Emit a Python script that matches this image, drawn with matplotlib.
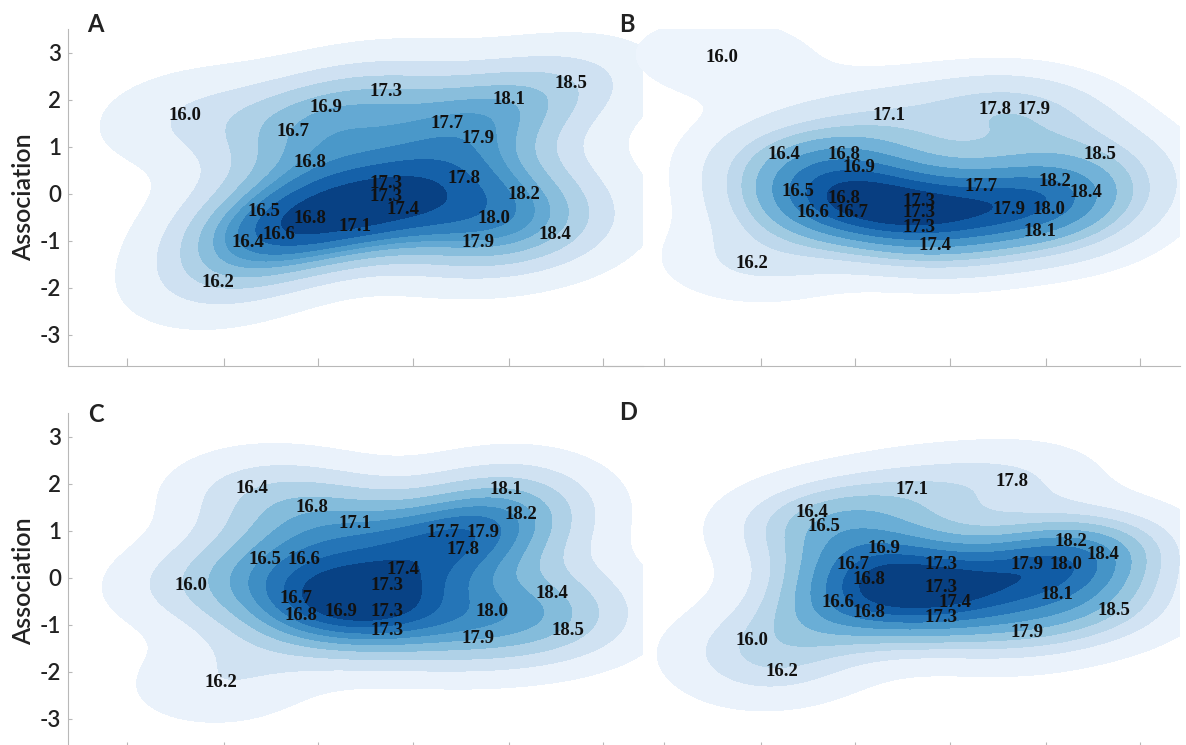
import matplotlib
matplotlib.use("Agg")
import matplotlib.pyplot as plt
import seaborn as sns

plt.rcParams["font.family"] = ["Lato", "DejaVu Sans"]
plt.rcParams["axes.unicode_minus"] = False

# --- panel A ---
a_lab = ["16.0", "16.9", "17.3", "18.1", "18.5", "16.7", "17.7", "17.9", "16.8", "17.3",
         "17.3", "17.8", "18.2", "16.5", "16.8", "17.4", "16.4", "16.6", "17.1", "18.0",
         "17.9", "18.4", "16.2"]
a_x = [16.00, 16.91, 17.30, 18.10, 18.50, 16.70, 17.70, 17.90, 16.81, 17.30,
       17.30, 17.81, 18.20, 16.51, 16.81, 17.41, 16.41, 16.61, 17.10, 18.00,
       17.90, 18.40, 16.21]
a_y = [1.66, 1.83, 2.17, 2.00, 2.34, 1.32, 1.49, 1.17, 0.66, 0.23,
       -0.06, 0.32, -0.02, -0.38, -0.53, -0.32, -1.04, -0.87, -0.70, -0.53,
       -1.04, -0.87, -1.89]

# --- panel B ---
b_lab = ["16.0", "17.1", "17.8", "17.9", "16.4", "16.8", "16.9", "18.5", "16.5", "16.8",
         "17.7", "18.2", "18.4", "16.6", "16.7", "17.3", "17.3", "17.3", "17.9", "18.0",
         "18.1", "17.4", "16.2"]
b_x = [16.00, 17.08, 17.77, 18.02, 16.40, 16.79, 16.89, 18.45, 16.49, 16.79,
       17.68, 18.16, 18.36, 16.59, 16.84, 17.28, 17.28, 17.28, 17.86, 18.12,
       18.06, 17.38, 16.19]
b_y = [2.91, 1.68, 1.79, 1.79, 0.83, 0.85, 0.57, 0.83, 0.06, -0.09,
       0.15, 0.26, 0.04, -0.40, -0.40, -0.17, -0.40, -0.72, -0.32, -0.32,
       -0.79, -1.09, -1.47]

# --- panel C ---
c_lab = ["16.4", "16.8", "17.1", "16.5", "16.6", "16.0", "16.7", "16.8", "16.9", "17.3",
         "17.3", "17.3", "16.2", "18.1", "18.2", "17.7", "17.9", "17.8", "17.4", "18.4",
         "18.0", "18.5", "17.9"]
c_x = [16.43, 16.82, 17.10, 16.52, 16.77, 16.04, 16.72, 16.75, 17.01, 17.31,
       17.31, 17.31, 16.23, 18.08, 18.18, 17.67, 17.93, 17.80, 17.41, 18.38,
       17.99, 18.48, 17.90]
c_y = [1.91, 1.51, 1.15, 0.40, 0.40, -0.15, -0.43, -0.79, -0.72, -0.17,
       -0.72, -1.11, -2.23, 1.89, 1.34, 0.96, 0.96, 0.60, 0.19, -0.34,
       -0.72, -1.11, -1.28]

# --- panel D ---
d_lab = ["17.1", "17.8", "16.4", "16.5", "16.9", "16.7", "16.8", "16.6", "16.8", "16.0",
         "16.2", "18.2", "18.4", "17.3", "17.9", "18.0", "17.3", "17.4", "18.1", "17.3",
         "18.5", "17.9"]
d_x = [17.23, 17.88, 16.58, 16.66, 17.05, 16.85, 16.95, 16.75, 16.95, 16.19,
       16.39, 18.26, 18.47, 17.42, 17.98, 18.23, 17.42, 17.51, 18.17, 17.42,
       18.54, 17.98]
d_y = [1.89, 2.06, 1.40, 1.09, 0.62, 0.28, -0.04, -0.53, -0.74, -1.34,
       -2.00, 0.77, 0.51, 0.28, 0.28, 0.28, -0.21, -0.53, -0.36, -0.85,
       -0.70, -1.17]

x_lim = (15.24, 18.97)
y_lim = (-3.66, 3.51)
x_ticks = [15.62, 16.25, 16.86, 17.48, 18.10, 18.71]
y_ticks = [-3, -2, -1, 0, 1, 2, 3]

W, H = 1186, 745
fig = plt.figure(figsize=(W / 100, H / 100), dpi=100)

GREY = "#b8b8b8"


def panel(rect, xs, ys, labs, letter, letter_px, show_y):
    ax = fig.add_axes(rect)
    ax.patch.set_alpha(0)  # neighbours overlap; keep the one underneath visible
    sns.kdeplot(x=xs, y=ys, fill=True, cmap="Blues", levels=10, thresh=0.05, ax=ax)
    for lab, x, y in zip(labs, xs, ys):
        ax.text(x, y, lab, ha="center", va="center", fontsize=13.5,
                fontweight="bold", family="Liberation Serif", color="#111111")
    ax.set_xlim(*x_lim)
    ax.set_ylim(*y_lim)
    ax.set_xticks(x_ticks)
    ax.set_xticklabels([])
    for s in ("top", "right"):
        ax.spines[s].set_visible(False)
    ax.spines["bottom"].set_color(GREY)
    ax.spines["left"].set_color(GREY)
    ax.tick_params(axis="x", direction="in", length=6, color=GREY)
    if show_y:
        ax.set_yticks(y_ticks)
        ax.tick_params(axis="y", direction="in", length=3, color=GREY,
                       labelsize=16, labelcolor="#222222", pad=5)
        for t in ax.get_yticklabels():
            t.set_fontweight("semibold")
        ax.set_ylabel("Association", fontsize=18, fontweight="semibold",
                      color="#222222", labelpad=3)
    else:
        ax.spines["left"].set_visible(False)
        ax.set_yticks([])
        ax.set_ylabel("")
    ax.set_xlabel("")
    fig.text(letter_px[0] / W, 1 - letter_px[1] / H, letter, fontsize=17,
             fontweight="bold", color="#222222", ha="center", va="center")
    return ax


ax_w = 575 / W
ax_h = 337 / H
top_b = (H - 366) / H
bot_b = (H - 750) / H
left1 = 68 / W
left2 = 605 / W

panel([left1, top_b, ax_w, ax_h], a_x, a_y, a_lab, "A", (95, 24), True)
panel([left2, top_b, ax_w, ax_h], b_x, b_y, b_lab, "B", (627, 24), False)
panel([left1, bot_b, ax_w, ax_h], c_x, c_y, c_lab, "C", (96, 414), True)
panel([left2, bot_b, ax_w, ax_h], d_x, d_y, d_lab, "D", (628, 413), False)

fig.savefig("out.png", dpi=100)
